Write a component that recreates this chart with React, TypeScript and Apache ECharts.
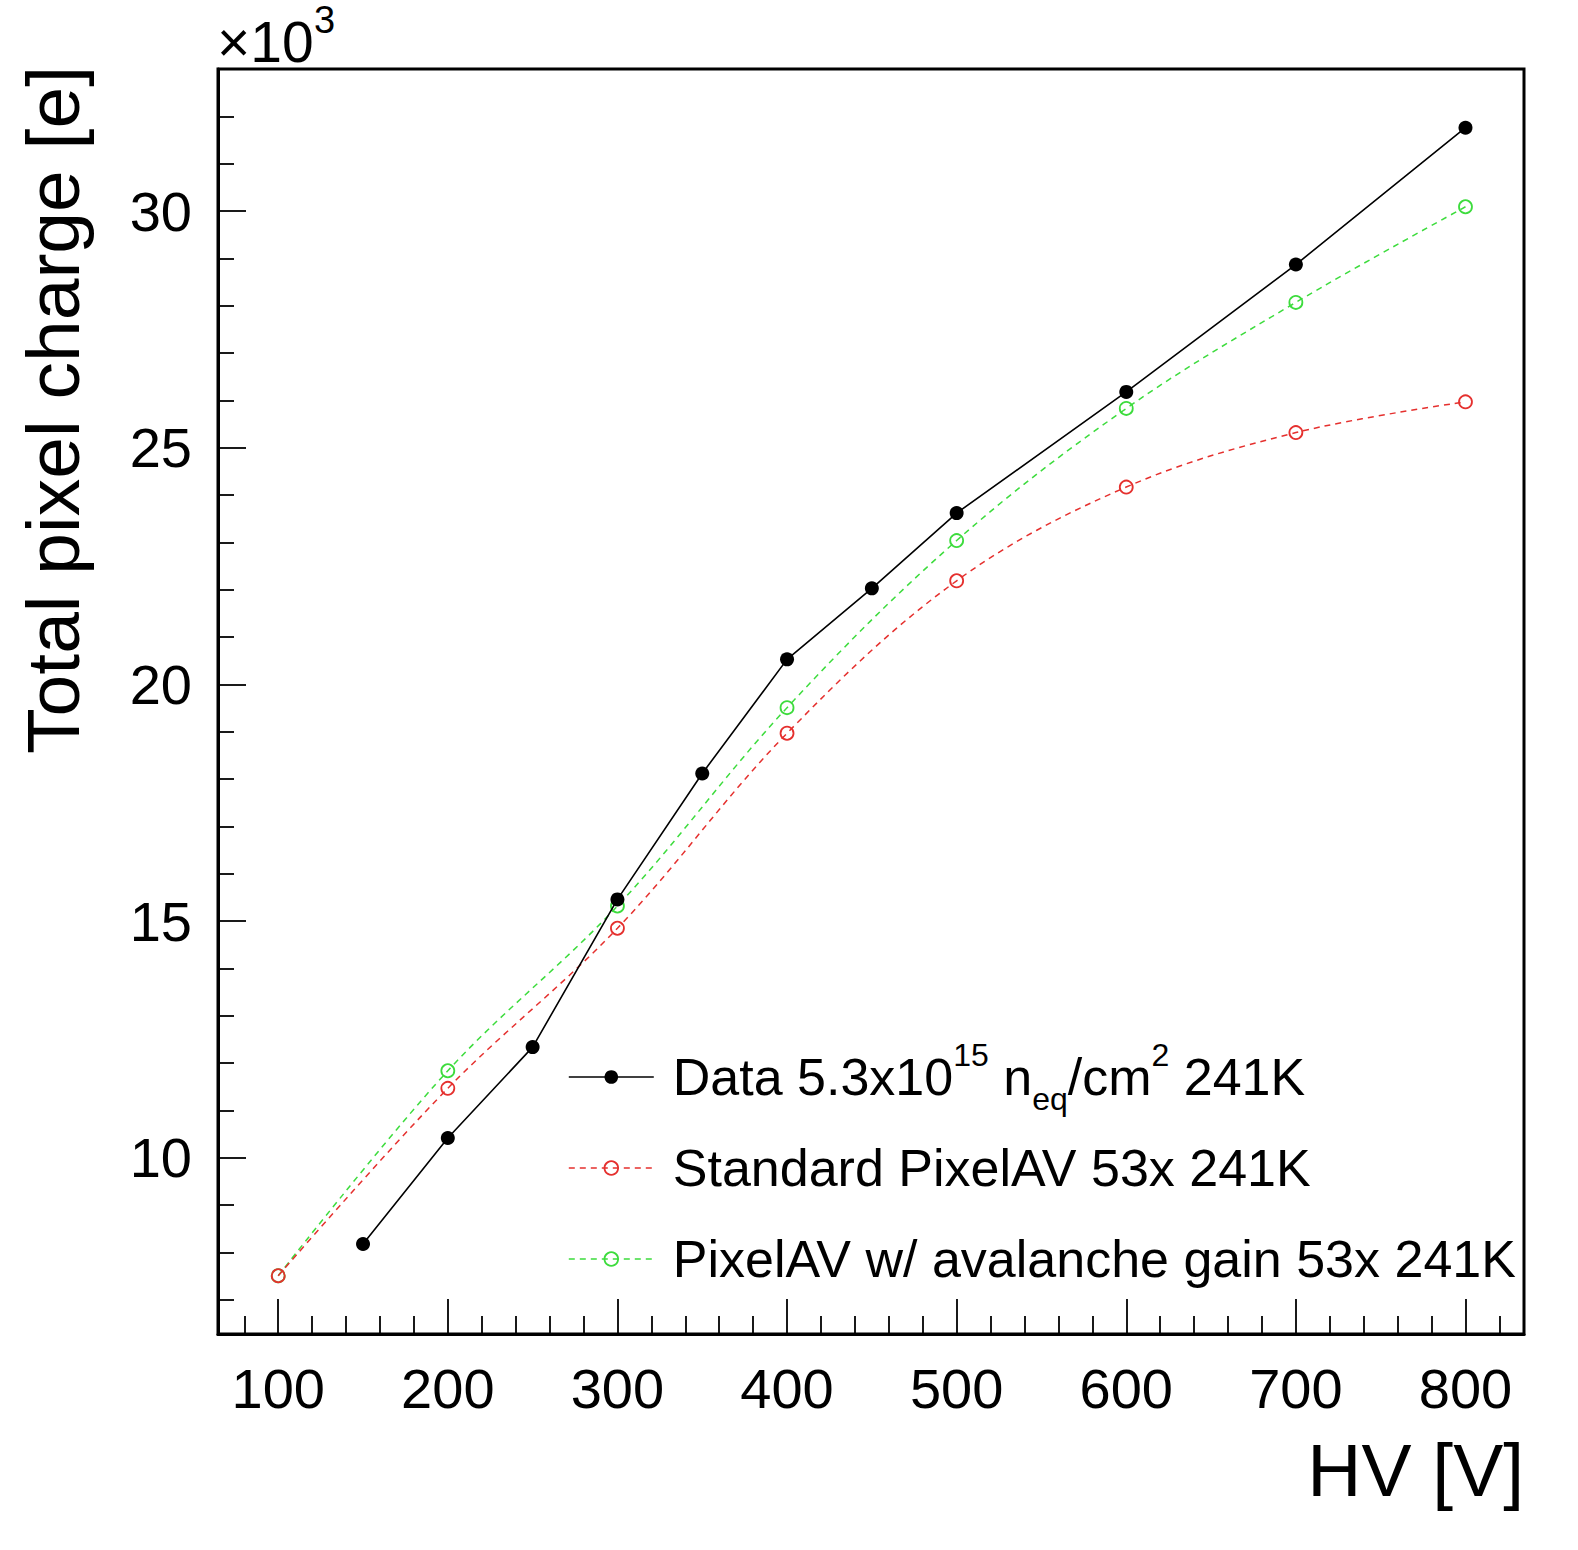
import React, { useEffect, useRef } from 'react';
import * as echarts from 'echarts';

// ---- data (charge in units of 10^3 e) ----
const hvData = [150, 200, 250, 300, 350, 400, 450, 500, 600, 700, 800];
const chargeData = [8.18, 10.42, 12.34, 15.46, 18.12, 20.53, 22.03, 23.62, 26.18, 28.87, 31.76];

const hvSim = [100, 200, 300, 400, 500, 600, 700, 800];
const chargeStandard = [7.51, 11.47, 14.85, 18.97, 22.19, 24.17, 25.32, 25.97];
const chargeAvalanche = [7.51, 11.84, 15.32, 19.51, 23.04, 25.83, 28.07, 30.09];

const xMajorTicks = [100, 200, 300, 400, 500, 600, 700, 800];
const xMinorTicks = [80, 120, 140, 160, 180, 220, 240, 260, 280, 320, 340, 360, 380, 420, 440, 460, 480,
  520, 540, 560, 580, 620, 640, 660, 680, 720, 740, 760, 780, 820];
const yMajorTicks = [10, 15, 20, 25, 30];
const yMinorTicks = [7, 8, 9, 11, 12, 13, 14, 16, 17, 18, 19, 21, 22, 23, 24, 26, 27, 28, 29, 31, 32];

const nameData = 'Data 5.3x10^15 n_eq/cm^2 241K';
const nameStandard = 'Standard PixelAV 53x 241K';
const nameAvalanche = 'PixelAV w/ avalanche gain 53x 241K';

const legendRich: Record<string, string> = {
  [nameData]: 'Data 5.3x10{sup|15} n{sub|eq}/cm{sup|2} 241K',
  [nameStandard]: 'Standard PixelAV 53x 241K',
  [nameAvalanche]: 'PixelAV w/ avalanche gain 53x 241K',
};

const FONT = '"Liberation Sans", Arial, Helvetica, sans-serif';
const RED = '#e5302e';
const GREEN = '#3ddc3d';
const BLACK = '#000000';

function zip(xs: number[], ys: number[]) {
  return xs.map((x, i) => [x, ys[i]]);
}

const tickStyle = { color: BLACK, width: 1.8 };

const xBase: any = {
  type: 'value',
  min: 64.5,
  max: 834.5,
  position: 'bottom',
  splitLine: { show: false },
};
const yBase: any = {
  type: 'value',
  min: 6.28,
  max: 33.0,
  position: 'left',
  splitLine: { show: false },
};

const option: any = {
  animation: false,
  backgroundColor: '#ffffff',
  grid: {
    left: 218,
    right: 54,
    top: 69,
    bottom: 216,
    show: true,
    borderColor: BLACK,
    borderWidth: 3,
    backgroundColor: 'transparent',
    containLabel: false,
  },
  xAxis: [
    {
      ...xBase,
      axisLine: { show: true, onZero: false, lineStyle: { color: BLACK, width: 3 } },
      axisTick: { show: true, inside: true, length: 35, customValues: xMajorTicks, lineStyle: tickStyle },
      axisLabel: {
        show: true, customValues: xMajorTicks, margin: 26,
        fontSize: 56, fontFamily: FONT, color: BLACK,
      },
    },
    {
      ...xBase,
      axisLine: { show: false, onZero: false },
      axisTick: { show: true, inside: true, length: 18, customValues: xMinorTicks, lineStyle: tickStyle },
      axisLabel: { show: false },
    },
  ],
  yAxis: [
    {
      ...yBase,
      axisLine: { show: true, onZero: false, lineStyle: { color: BLACK, width: 3 } },
      axisTick: { show: true, inside: true, length: 28, customValues: yMajorTicks, lineStyle: tickStyle },
      axisLabel: {
        show: true, customValues: yMajorTicks, margin: 26,
        fontSize: 56, fontFamily: FONT, color: BLACK,
      },
    },
    {
      ...yBase,
      axisLine: { show: false, onZero: false },
      axisTick: { show: true, inside: true, length: 16, customValues: yMinorTicks, lineStyle: tickStyle },
      axisLabel: { show: false },
    },
  ],
  legend: {
    orient: 'vertical',
    left: 568,
    top: 1039,
    padding: 0,
    itemGap: 15,
    itemWidth: 85,
    itemHeight: 17,
    selectedMode: false,
    formatter: (name: string) => legendRich[name] ?? name,
    textStyle: {
      fontFamily: FONT,
      fontSize: 52,
      color: BLACK,
      lineHeight: 76,
      padding: [0, 0, 0, 14],
      rich: {
        sup: { fontFamily: FONT, fontSize: 32, lineHeight: 30, color: BLACK, verticalAlign: 'top' },
        sub: { fontFamily: FONT, fontSize: 32, lineHeight: 24, color: BLACK, verticalAlign: 'bottom' },
      },
    },
    data: [
      {
        name: nameData,
        itemStyle: { color: BLACK, borderWidth: 0 },
        lineStyle: { color: BLACK, width: 1.6, type: 'solid' },
      },
      {
        name: nameStandard,
        itemStyle: { color: 'rgba(0,0,0,0)', borderColor: RED, borderWidth: 1.8 },
        lineStyle: { color: RED, width: 1.5, type: [6, 5] },
      },
      {
        name: nameAvalanche,
        itemStyle: { color: 'rgba(0,0,0,0)', borderColor: GREEN, borderWidth: 1.8 },
        lineStyle: { color: GREEN, width: 1.5, type: [6, 5] },
      },
    ],
  },
  graphic: [
    {
      type: 'text', x: 217, y: 42, silent: true,
      style: {
        text: '×10', fontSize: 57, fontFamily: FONT, fill: BLACK,
        align: 'left', verticalAlign: 'middle', textAlign: 'left', textVerticalAlign: 'middle',
      },
    },
    {
      type: 'text', x: 314, y: 20, silent: true,
      style: {
        text: '3', fontSize: 38, fontFamily: FONT, fill: BLACK,
        align: 'left', verticalAlign: 'middle', textAlign: 'left', textVerticalAlign: 'middle',
      },
    },
    {
      type: 'text', x: 53, y: 66, rotation: Math.PI / 2, silent: true,
      style: {
        text: 'Total pixel charge [e]', fontSize: 75, fontFamily: FONT, fill: BLACK,
        align: 'right', verticalAlign: 'middle', textAlign: 'right', textVerticalAlign: 'middle',
      },
    },
    {
      type: 'text', x: 1524, y: 1470, silent: true,
      style: {
        text: 'HV [V]', fontSize: 75, fontFamily: FONT, fill: BLACK,
        align: 'right', verticalAlign: 'middle', textAlign: 'right', textVerticalAlign: 'middle',
      },
    },
  ],
  series: [
    {
      name: nameData,
      type: 'line',
      xAxisIndex: 0,
      yAxisIndex: 0,
      data: zip(hvData, chargeData),
      symbol: 'circle',
      symbolSize: 14,
      z: 4,
      itemStyle: { color: BLACK },
      lineStyle: { color: BLACK, width: 1.6, type: 'solid' },
      emphasis: { disabled: true },
    },
    {
      name: nameStandard,
      type: 'line',
      xAxisIndex: 0,
      yAxisIndex: 0,
      data: zip(hvSim, chargeStandard),
      smooth: 0.35,
      symbol: 'circle',
      symbolSize: 13,
      z: 3,
      itemStyle: { color: 'rgba(0,0,0,0)', borderColor: RED, borderWidth: 1.8 },
      lineStyle: { color: RED, width: 1.5, type: [6, 5] },
      emphasis: { disabled: true },
    },
    {
      name: nameAvalanche,
      type: 'line',
      xAxisIndex: 0,
      yAxisIndex: 0,
      data: zip(hvSim, chargeAvalanche),
      smooth: 0.35,
      symbol: 'circle',
      symbolSize: 13,
      z: 2,
      itemStyle: { color: 'rgba(0,0,0,0)', borderColor: GREEN, borderWidth: 1.8 },
      lineStyle: { color: GREEN, width: 1.5, type: [6, 5] },
      emphasis: { disabled: true },
    },
  ],
};

export default function App() {
  const ref = useRef<HTMLDivElement>(null);
  useEffect(() => {
    if (!ref.current) return;
    const chart = echarts.init(ref.current, null, { renderer: 'svg' });
    chart.setOption(option);
    return () => {
      chart.dispose();
    };
  }, []);
  return (
    <div
      ref={ref}
      style={{ position: 'fixed', left: 0, top: 0, width: 1578, height: 1550, background: '#ffffff' }}
    />
  );
}
